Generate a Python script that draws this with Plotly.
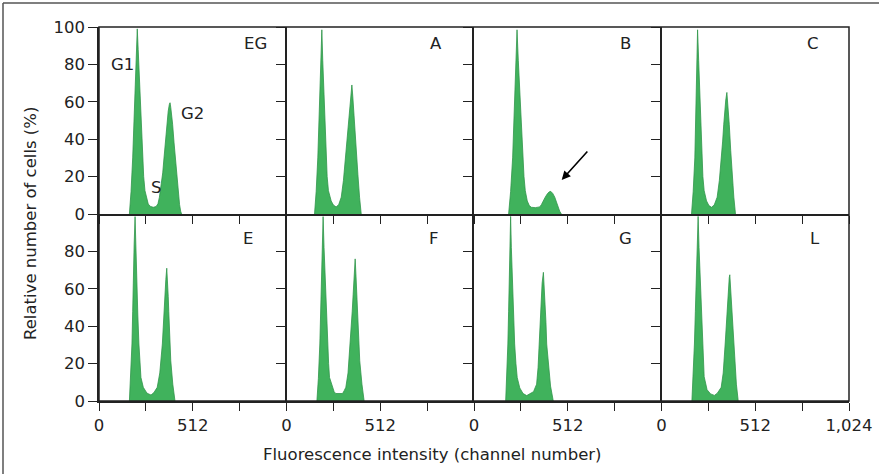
import plotly.graph_objects as go
from plotly.subplots import make_subplots

# ---------------- data (channel number, % of cells) ----------------
PANELS = ["EG", "A", "B", "C", "E", "F", "G", "L"]

EG_CH = [166, 175, 184, 191, 197, 203, 209, 214, 219, 224, 230, 237, 244, 251, 260, 269, 282, 297, 312, 322, 330, 340, 348, 355, 363, 370, 378, 384, 388, 392, 397, 402, 410, 418, 424, 432, 440, 446, 451]
EG_PCT = [0, 12, 30, 50, 66, 84, 99, 88, 76, 64, 48, 30, 20, 12.5, 8, 5.3, 4, 3.6, 4, 5.5, 9, 15, 22, 30, 39, 48, 55, 58.5, 59.5, 57, 53, 48, 38, 28, 21, 12, 5, 1.5, 0]

A_CH = [153, 162, 171, 177, 182, 188, 193, 198, 204, 210, 215, 222, 229, 236, 244, 256, 271, 285, 299, 311, 322, 331, 339, 346, 352, 357, 362, 366, 371, 380, 390, 399, 408]
A_PCT = [0, 12, 30, 48, 66, 84, 98.5, 82, 66, 46, 30, 20, 12.5, 9, 7, 4.8, 3.8, 5, 9, 18, 30, 39, 48, 58, 66, 69, 63, 56, 48, 34, 21, 9, 0]

B_CH = [189, 200, 211, 217, 222, 229, 235, 242, 249, 258, 266, 273, 280, 291, 302, 313, 335, 359, 368, 377, 389, 400, 410, 419, 430, 441, 450, 459, 468, 477]
B_PCT = [0, 12, 30, 48, 66, 84, 98.5, 82, 66, 48, 30, 20, 12.5, 7, 4.5, 3.6, 3.4, 3.8, 5, 7, 9, 10.7, 11.8, 12.1, 11, 9, 6.5, 3.6, 1.5, 0]

C_CH = [164, 173, 182, 186, 189, 193, 197, 203, 209, 215, 220, 226, 233, 246, 259, 273, 288, 304, 316, 328, 334, 340, 346, 351, 357, 362, 366, 370, 378, 386, 395, 404]
C_PCT = [0, 12, 30, 48, 66, 84, 98.5, 82, 66, 46, 30, 20, 12.5, 7, 4.5, 3.6, 4.8, 9, 18, 30, 39, 48, 56, 61, 65, 60, 54, 48, 34, 21, 9, 0]

E_CH = [166, 173, 180, 184, 187, 192, 197, 201, 206, 212, 218, 223, 229, 242, 262, 284, 300, 318, 332, 346, 350, 355, 360, 365, 370, 374, 378, 381, 387, 392, 403, 415]
E_PCT = [0, 12, 30.5, 48, 66, 84, 98.6, 82, 66, 46, 30.5, 20, 12.6, 7.3, 4.2, 3.2, 4.5, 7.3, 15, 30.5, 39, 48, 57, 65, 71, 65, 56, 48, 34, 21.5, 9, 0]

F_CH = [166, 174, 182, 187, 191, 196, 200, 205, 211, 218, 224, 230, 235, 250, 260, 269, 288, 306, 315, 324, 336, 348, 354, 359, 364, 369, 375, 379, 384, 388, 394, 400, 412, 424]
F_PCT = [0, 12, 30.5, 48, 66, 84, 98.6, 82, 66, 46, 30.5, 20, 12.6, 7.3, 5, 4, 3.8, 4, 5.5, 7.3, 15, 30.5, 40, 48, 57, 66, 76, 68, 56, 48, 34, 21.5, 9, 0]

G_CH = [173, 179, 185, 189, 192, 196, 200, 204, 209, 215, 222, 229, 236, 250, 268, 288, 306, 325, 342, 350, 356, 362, 367, 372, 379, 383, 388, 393, 397, 405, 418, 433]
G_PCT = [0, 12, 30.5, 48, 66, 84, 98.7, 82, 66, 46, 30.5, 20, 12.6, 7, 4, 2.9, 3.8, 5, 9, 18, 30.5, 45, 55, 63, 68.8, 62, 52, 42, 30.5, 20, 8, 0]

L_CH = [166, 173, 180, 185, 189, 194, 200, 205, 211, 217, 222, 228, 233, 249, 268, 289, 305, 326, 337, 348, 353, 357, 362, 366, 370, 373, 377, 381, 384, 391, 399, 409, 419]
L_PCT = [0, 12, 31, 48, 66.6, 84, 98.7, 82, 66.6, 46, 31, 20, 13, 6, 3.8, 3, 4.2, 7.3, 15, 31, 40, 49, 57, 62, 66, 67.5, 61, 54, 49, 34, 21, 9, 0]

SERIES = [(EG_CH, EG_PCT), (A_CH, A_PCT), (B_CH, B_PCT), (C_CH, C_PCT),
          (E_CH, E_PCT), (F_CH, F_PCT), (G_CH, G_PCT), (L_CH, L_PCT)]

X_TICKS = [0, 256, 512, 768, 1024]
X_TICKTEXT = ["0", "", "512", "", ""]
X_TICKTEXT_LAST = ["0", "", "512", "", "1,024"]
Y_TICKS_TOP = [0, 20, 40, 60, 80, 100]
Y_TICKS_BOTTOM = [0, 20, 40, 60, 80]

# label positions (channel, %) of the panel letters
LABEL_POS = [(857, 91), (814, 91), (825, 91), (830, 91),
             (814, 86.8), (808, 86.8), (825, 86.8), (841, 86.8)]

FILL = "rgb(64,178,92)"
EDGE = "rgb(48,150,74)"
INK = "#222222"
FONT = "DejaVu Sans, Liberation Sans, Arial, sans-serif"
FS = 16.5

W, H = 879, 474
ML, MR, MT, MB = 99, 30, 27, 73

fig = make_subplots(rows=2, cols=4, horizontal_spacing=0, vertical_spacing=0)

for i, (ch, pct) in enumerate(SERIES):
    r, c = i // 4 + 1, i % 4 + 1
    fig.add_trace(go.Scatter(x=ch, y=pct, mode="lines", fill="tozeroy",
                             fillcolor=FILL, line=dict(color=EDGE, width=0.8),
                             hoverinfo="skip", showlegend=False), row=r, col=c)
    bottom = (r == 2)
    fig.update_xaxes(range=[0, 1024], tickvals=X_TICKS,
                     ticktext=(X_TICKTEXT_LAST if c == 4 else X_TICKTEXT),
                     showticklabels=bottom, ticks="outside", ticklen=8,
                     tickwidth=1.3, tickcolor=INK, showline=True, mirror=False,
                     linecolor=INK, linewidth=1.5, showgrid=False, zeroline=False,
                     automargin=False,
                     tickfont=dict(size=FS, color=INK, family=FONT),
                     row=r, col=c)
    fig.update_yaxes(range=[0, 100],
                     tickvals=(Y_TICKS_BOTTOM if bottom else Y_TICKS_TOP),
                     showticklabels=(c == 1), ticks="outside", ticklen=9,
                     tickwidth=1.3, tickcolor=INK, showline=True, mirror=False,
                     linecolor=INK, linewidth=1.5, showgrid=False, zeroline=False,
                     automargin=False,
                     tickfont=dict(size=FS, color=INK, family=FONT),
                     row=r, col=c)
    ax = "" if i == 0 else str(i + 1)
    lx, ly = LABEL_POS[i]
    fig.add_annotation(x=lx, y=ly, xref="x" + ax, yref="y" + ax, text=PANELS[i],
                       showarrow=False, xanchor="center", yanchor="middle",
                       font=dict(size=FS, color=INK, family=FONT))

# phase labels in the EG panel
for txt, px, py in [("G1", 131, 80.2), ("G2", 508, 54), ("S", 311, 14.4)]:
    fig.add_annotation(x=px, y=py, xref="x", yref="y", text=txt, showarrow=False,
                       xanchor="center", yanchor="middle",
                       font=dict(size=FS, color=INK, family=FONT))

# arrow in panel B
fig.add_annotation(x=479, y=18.2, xref="x3", yref="y3", text="", showarrow=True,
                   ax=27, ay=-30, arrowhead=2, arrowsize=1.1, arrowwidth=1.6,
                   arrowcolor="black")

# axis titles
fig.add_annotation(x=(432 - ML) / 750, y=(401 - 455) / 374, xref="paper", yref="paper",
                   text="Fluorescence intensity (channel number)", showarrow=False,
                   xanchor="center", yanchor="middle",
                   font=dict(size=FS, color=INK, family=FONT))
fig.add_annotation(x=(30 - ML) / 750, y=(401 - 224) / 374, xref="paper", yref="paper",
                   text="Relative number of cells (%)", textangle=-90, showarrow=False,
                   xanchor="center", yanchor="middle",
                   font=dict(size=FS, color=INK, family=FONT))

# top and right edges of the panel block
fig.add_shape(type="rect", xref="paper", yref="paper", x0=0, x1=1, y0=0, y1=1,
              line=dict(color=INK, width=1.5))

# outer figure frame (top and left edges visible)
fx0 = (3 - ML) / 750
fy1 = (401 - 3) / 374
fig.add_shape(type="line", xref="paper", yref="paper", x0=fx0, x1=(880 - ML) / 750,
              y0=fy1, y1=fy1, line=dict(color="#555555", width=1.5))
fig.add_shape(type="line", xref="paper", yref="paper", x0=fx0, x1=fx0,
              y0=fy1, y1=(401 - 476) / 374, line=dict(color="#555555", width=1.5))

fig.update_layout(width=W, height=H, margin=dict(l=ML, r=MR, t=MT, b=MB, autoexpand=False),
                  paper_bgcolor="white", plot_bgcolor="white",
                  font=dict(family=FONT, color=INK))

fig.write_html("out.html")
